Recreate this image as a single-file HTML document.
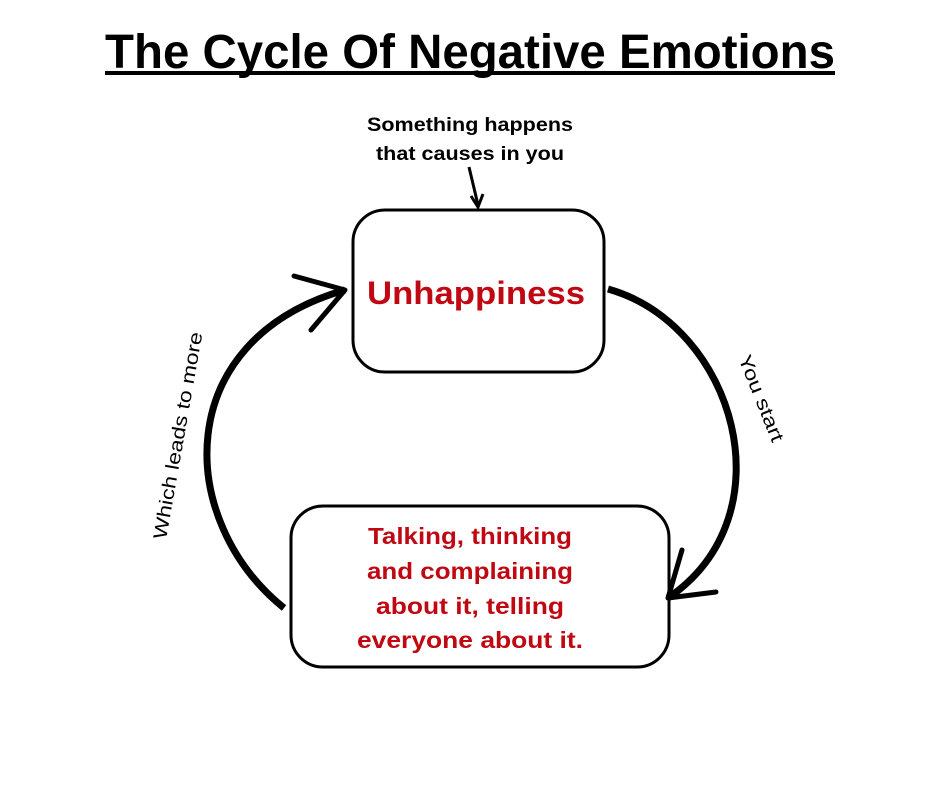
<!DOCTYPE html>
<html><head><meta charset="utf-8"><style>
html,body{margin:0;padding:0;background:#fff;}
svg{display:block;}
text{font-family:"Liberation Sans",sans-serif;}
</style></head><body>
<svg width="940" height="788" viewBox="0 0 940 788" xmlns="http://www.w3.org/2000/svg">
<rect width="940" height="788" fill="#fff"/>
<text x="105" y="68" font-size="48" font-weight="bold" textLength="730" lengthAdjust="spacingAndGlyphs" fill="#000">The Cycle Of Negative Emotions</text>
<rect x="105" y="71" width="730" height="4" fill="#000"/>
<text x="470" y="131" font-size="19" font-weight="bold" text-anchor="middle" textLength="206" lengthAdjust="spacingAndGlyphs">Something happens</text>
<text x="470" y="160" font-size="19" font-weight="bold" text-anchor="middle" textLength="188" lengthAdjust="spacingAndGlyphs">that causes in you</text>
<line x1="469" y1="167" x2="478" y2="205" stroke="#000" stroke-width="3"/>
<polyline points="471,196 478,207 483,194" fill="none" stroke="#000" stroke-width="3"/>
<rect x="353" y="210" width="251" height="162" rx="32" fill="#fff" stroke="#000" stroke-width="3"/>
<text x="476" y="304" font-size="32" font-weight="bold" fill="#c00812" text-anchor="middle" textLength="218" lengthAdjust="spacingAndGlyphs">Unhappiness</text>
<rect x="291" y="506" width="378" height="161" rx="32" fill="#fff" stroke="#000" stroke-width="3"/>
<g font-size="23" font-weight="bold" fill="#c00812" text-anchor="middle">
<text x="470" y="544" textLength="204" lengthAdjust="spacingAndGlyphs">Talking, thinking</text>
<text x="470" y="579" textLength="206" lengthAdjust="spacingAndGlyphs">and complaining</text>
<text x="470" y="614" textLength="188" lengthAdjust="spacingAndGlyphs">about it, telling</text>
<text x="470" y="648" textLength="226" lengthAdjust="spacingAndGlyphs">everyone about it.</text>
</g>
<path d="M608,289 C735,325 790,515 668,598" fill="none" stroke="#000" stroke-width="7"/>
<polyline points="682,550 668,598 716,592" fill="none" stroke="#000" stroke-width="5" stroke-linecap="round" stroke-linejoin="round"/>
<path d="M284,608 C175,520 170,340 345,290" fill="none" stroke="#000" stroke-width="7"/>
<polyline points="294,276 345,290 311,330" fill="none" stroke="#000" stroke-width="5" stroke-linecap="round" stroke-linejoin="round"/>
<text transform="translate(166,540) rotate(-80)" font-size="19" fill="#000" textLength="210" lengthAdjust="spacingAndGlyphs">Which leads to more</text>
<text transform="translate(738,358) rotate(68)" font-size="19" fill="#000" textLength="92" lengthAdjust="spacingAndGlyphs">You start</text>
</svg>
</body></html>
